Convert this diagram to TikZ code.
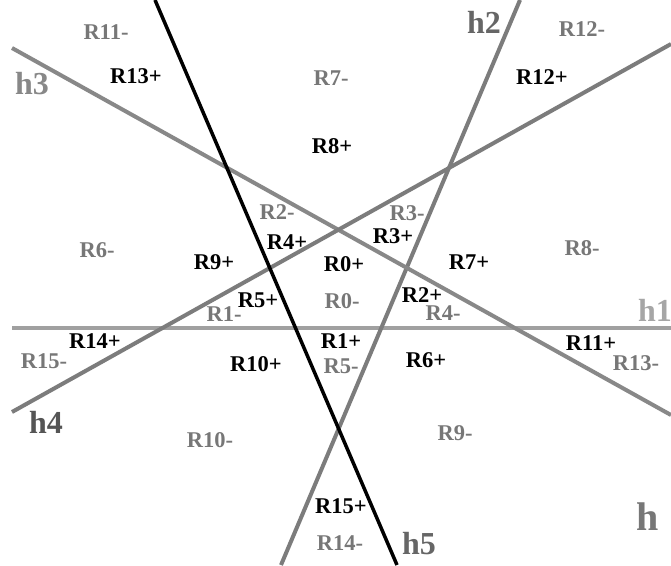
\documentclass[tikz,border=0pt]{standalone}
\usepackage{fontspec}
\setmainfont{Liberation Serif}
\definecolor{minusgray}{HTML}{777777}
\definecolor{hone}{HTML}{A6A6A6}
\definecolor{htwo}{HTML}{666666}
\definecolor{hthree}{HTML}{888888}
\definecolor{hfour}{HTML}{555555}
\definecolor{lineone}{HTML}{A0A0A0}
\definecolor{linegray}{HTML}{7C7C7C}
\tikzset{
  plus/.style={inner sep=0pt, font=\fontsize{22.5}{22.5}\selectfont\bfseries, text=black},
  minus/.style={inner sep=0pt, font=\fontsize{22.5}{22.5}\selectfont\bfseries, text=minusgray},
  hlab/.style={inner sep=0pt, font=\fontsize{32}{32}\selectfont\bfseries},
  gline/.style={line width=4pt, draw=linegray},
  bline/.style={line width=3.5pt, draw=black}
}
\begin{document}
\begin{tikzpicture}[x=1pt,y=-1pt]
\useasboundingbox[fill=white] (0,0) rectangle (671,565);
% line end points
\coordinate (h1a) at (12,328);  \coordinate (h1b) at (671,328);
\coordinate (h2a) at (520,0);   \coordinate (h2b) at (281,565);
\coordinate (h3a) at (12,48);   \coordinate (h3b) at (671,415);
\coordinate (h4a) at (12,412);  \coordinate (h4b) at (671,44);
\coordinate (h5a) at (155,0);   \coordinate (h5b) at (397,565);
\draw[gline, draw=lineone] (h1a) -- (h1b);
\draw[gline] (h2a) -- (h2b);
\draw[gline, draw=hthree] (h3a) -- (h3b);
\draw[gline] (h4a) -- (h4b);
\draw[bline] (h5a) -- (h5b);
% line labels
\node[hlab, text=hone]   (lh1) at (655,310) {h1};
\node[hlab, text=htwo]   (lh2) at (484,22)  {h2};
\node[hlab, text=hthree] (lh3) at (32,84)   {h3};
\node[hlab, text=hfour]  (lh4) at (46,422)  {h4};
\node[hlab, text=htwo]   (lh5) at (419,544) {h5};
\node[inner sep=0pt, font=\fontsize{40}{40}\selectfont\bfseries, text=minusgray] (lh) at (648,517) {h};
% region labels
\node[minus] (r11m) at (106,32)  {R11-};
\node[plus]  (r13p) at (136,76)  {R13+};
\node[minus] (r7m)  at (331,78)  {R7-};
\node[plus]  (r8p)  at (332,146) {R8+};
\node[minus] (r12m) at (582,29)  {R12-};
\node[plus]  (r12p) at (542,77)  {R12+};
\node[minus] (r2m)  at (277,212) {R2-};
\node[plus]  (r4p)  at (287,242) {R4+};
\node[minus] (r6m)  at (97,250)  {R6-};
\node[plus]  (r9p)  at (214,262) {R9+};
\node[plus]  (r5p)  at (258,300) {R5+};
\node[minus] (r1m)  at (224,314) {R1-};
\node[plus]  (r14p) at (95,341)  {R14+};
\node[minus] (r15m) at (44,361)  {R15-};
\node[plus]  (r10p) at (256,364) {R10+};
\node[minus] (r3m)  at (407,213) {R3-};
\node[plus]  (r3p)  at (393,236) {R3+};
\node[plus]  (r7p)  at (469,262) {R7+};
\node[minus] (r8m)  at (582,248) {R8-};
\node[plus]  (r2p)  at (422,295) {R2+};
\node[minus] (r4m)  at (443,313) {R4-};
\node[plus]  (r11p) at (591,343) {R11+};
\node[minus] (r13m) at (636,363) {R13-};
\node[plus]  (r6p)  at (426,360) {R6+};
\node[plus]  (r0p)  at (344,264) {R0+};
\node[minus] (r0m)  at (342,301) {R0-};
\node[plus]  (r1p)  at (341,341) {R1+};
\node[minus] (r5m)  at (341,366) {R5-};
\node[minus] (r10m) at (210,440) {R10-};
\node[minus] (r9m)  at (455,433) {R9-};
\node[plus]  (r15p) at (341,506) {R15+};
\node[minus] (r14m) at (340,543) {R14-};
\end{tikzpicture}
\end{document}
